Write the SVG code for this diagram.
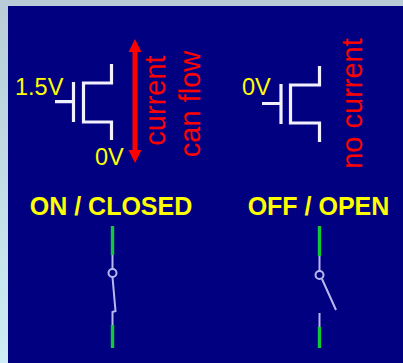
<svg xmlns="http://www.w3.org/2000/svg" width="403" height="363" viewBox="0 0 403 363">
<defs>
<linearGradient id="bg" x1="0" y1="0" x2="0" y2="1"><stop offset="0" stop-color="#b8ccd8"/><stop offset="1" stop-color="#cdeef6"/></linearGradient>
</defs>
<style>
.t{font-family:"Liberation Sans",Arial,sans-serif}
.y{fill:#ffff00;font-size:23.5px}
.h{fill:#ffff00;font-size:25px;font-weight:bold;text-anchor:middle}
.r{fill:#ff0000;font-size:29px;text-anchor:middle}
.m{fill:none;stroke:#f0f0ff;stroke-width:3.2}
.g{stroke:#10c838;stroke-width:3.4;fill:none}
.w{stroke:#b8b8f0;stroke-width:2;fill:none}
</style>
<rect width="403" height="363" fill="url(#bg)"/>
<rect x="8" y="6" width="395" height="357" fill="#000080"/>
<g id="transistor-on">
<path class="m" d="M55 101.7H73.5M73.5 82V122M111.5 64V83H83.5V122H111.5V140"/>
</g>
<g id="transistor-off">
<path class="m" d="M262 103.5H281M281 84V124M319.5 66V85H290.5V123H319.5V142"/>
</g>
<g id="labels-on">
<text class="t y" x="15" y="95">1.5V</text>
<text class="t y" x="95" y="165">0V</text>
<text class="t r" transform="translate(165 100.5) rotate(-90)">current</text>
<text class="t r" transform="translate(200 104) rotate(-90)">can flow</text>
<text class="t h" x="111" y="215">ON / CLOSED</text>
</g>
<g id="labels-off">
<text class="t y" x="242" y="95">0V</text>
<text class="t r" transform="translate(362 103.5) rotate(-90)">no current</text>
<text class="t h" x="318.5" y="215">OFF / OPEN</text>
</g>
<g id="connectors">
<path d="M135 50V153" stroke="#ff0000" stroke-width="5" fill="none"/>
<path d="M135 39L141.5 52H128.5Z M135 163L128.5 150H141.5Z" fill="#ff0000"/>
</g>
<g id="switch-closed">
<path class="w" d="M112.5 254V269M112.5 277L115.5 311L112.5 312V326"/>
<circle class="w" cx="112.5" cy="273" r="4"/>
<path class="g" d="M112.5 226V255M112.5 325V348"/>
</g>
<g id="switch-open">
<path class="w" d="M319.5 255V271M322 279L336 310M319.5 313V328"/>
<circle class="w" cx="319.5" cy="275" r="4"/>
<path class="g" d="M319.5 226V256M319.5 327V348"/>
</g>
</svg>
